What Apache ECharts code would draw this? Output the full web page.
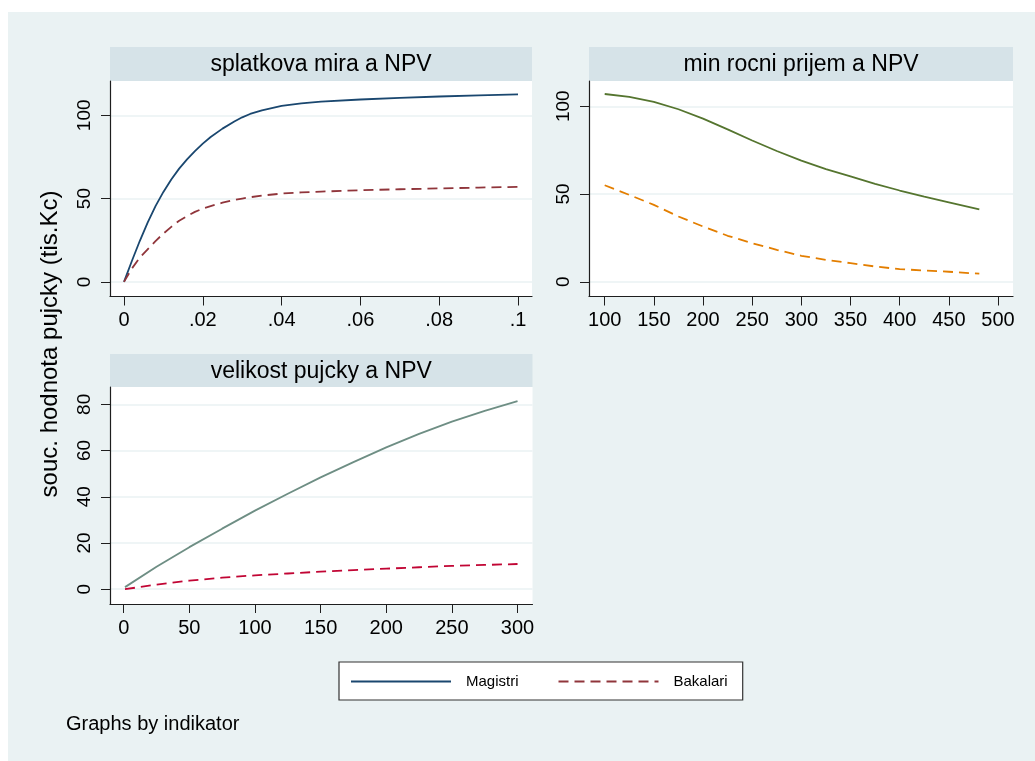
<!DOCTYPE html>
<html>
<head>
<meta charset="utf-8">
<script src="https://cdn.jsdelivr.net/npm/echarts@6/dist/echarts.min.js"></script>
<style>
  html, body { margin: 0; padding: 0; background: #ffffff; }
  #chart { width: 1035px; height: 761px; }
</style>
</head>
<body>
<div id="chart"></div>
<script>
// ---- data ----
const panelTitles = ['splatkova mira a NPV', 'min rocni prijem a NPV', 'velikost pujcky a NPV'];
const groupNames = ['Magistri', 'Bakalari'];
const yAxisTitle = 'souc. hodnota pujcky (tis.Kc)';
const noteText = 'Graphs by indikator';

// panel 1: repayment rate
const rateX   = [0, 0.002, 0.004, 0.006, 0.008, 0.01, 0.012, 0.014, 0.016, 0.018, 0.02, 0.022, 0.025, 0.028, 0.03, 0.032, 0.035, 0.04, 0.045, 0.05, 0.06, 0.07, 0.08, 0.09, 0.1];
const rateMag = [0, 12.5, 24.5, 35.5, 45.5, 54, 61.5, 68, 73.5, 78.5, 83, 87, 92, 96.3, 98.8, 100.8, 103, 105.6, 107.2, 108.2, 109.5, 110.5, 111.3, 112, 112.6];
const rateBak = [0, 8, 14.5, 19.5, 24.5, 29, 33, 36.7, 39.5, 42, 44, 45.5, 47.5, 49.2, 50, 50.8, 51.8, 53, 53.7, 54.2, 55, 55.6, 56.1, 56.6, 57];

// panel 2: minimum annual income
const incomeX   = [100, 125, 150, 175, 200, 225, 250, 275, 300, 325, 350, 375, 400, 425, 450, 481];
const incomeMag = [107, 105.3, 102.5, 98.3, 93, 86.8, 80.5, 74.5, 69, 64.2, 60, 55.8, 52, 48.5, 45.3, 41.3];
const incomeBak = [55, 49.5, 43.8, 37.2, 31.5, 26.2, 22, 18.2, 14.8, 12.5, 10.6, 8.7, 7.2, 6.4, 5.7, 4.6];

// panel 3: loan size
const loanX   = [1, 25, 50, 75, 100, 125, 150, 175, 200, 225, 250, 275, 300];
const loanMag = [0.9, 9.7, 18.2, 26.2, 34, 41.3, 48.4, 55, 61.4, 67.2, 72.5, 77.2, 81.4];
const loanBak = [0, 2, 3.7, 5, 6, 6.8, 7.6, 8.3, 8.9, 9.5, 10.1, 10.5, 10.9];

// tick values
const rateTicks   = [0, 0.02, 0.04, 0.06, 0.08, 0.1];
const incomeTicks = [100, 150, 200, 250, 300, 350, 400, 450, 500];
const loanTicks   = [0, 50, 100, 150, 200, 250, 300];
const npvTicksA   = [0, 50, 100];
const npvTicksB   = [0, 20, 40, 60, 80];

// ---- styling ----
const FONT = 'Liberation Sans, Arial, Helvetica, sans-serif';
const BG = '#eaf2f3';
const STRIP = '#d6e3e8';
const AXIS = '#1e1e1e';
const colors = {
  p1: ['#1a476f', '#90353b'],
  p2: ['#55752f', '#e37e00'],
  p3: ['#6e8e84', '#c10534']
};

const grids = [
  { left: 110, top: 81, width: 422, height: 215.5 },
  { left: 589, top: 81, width: 424, height: 215.5 },
  { left: 110, top: 387, width: 422.5, height: 217 }
];

const pairs = (xs, ys) => xs.map((x, i) => [x, ys[i]]);
const stataDec = v => (v === 0 ? '0' : String(+v.toFixed(4)).replace(/^0\./, '.'));

function xAxisFor(gi, min, max, ticks, fmt) {
  return {
    type: 'value', gridIndex: gi, min: min, max: max,
    axisLine: { show: true, onZero: false, lineStyle: { color: AXIS, width: 1.2 } },
    axisTick: { show: true, length: 9, customValues: ticks, lineStyle: { color: AXIS, width: 1 } },
    axisLabel: { customValues: ticks, formatter: fmt || (v => String(v)), color: '#000', fontSize: 20, fontFamily: FONT, margin: 14 },
    splitLine: { show: false }
  };
}
function yAxisFor(gi, min, max, ticks) {
  return {
    type: 'value', gridIndex: gi, min: min, max: max,
    axisLine: { show: true, onZero: false, lineStyle: { color: AXIS, width: 1.2 } },
    axisTick: { show: true, length: 9, customValues: ticks, lineStyle: { color: AXIS, width: 1 } },
    axisLabel: { customValues: ticks, rotate: 90, color: '#000', fontSize: 19, fontFamily: FONT, margin: 16 },
    splitLine: { show: true, lineStyle: { color: BG, width: 1.5 } }
  };
}
function lineSeries(name, gi, data, color, dashed) {
  return {
    name: name, type: 'line', xAxisIndex: gi, yAxisIndex: gi, data: data,
    showSymbol: false, symbol: 'none', smooth: false,
    lineStyle: { color: color, width: 1.8, type: dashed ? [10, 6] : 'solid' },
    itemStyle: { color: color },
    emphasis: { disabled: true }, animation: false
  };
}

const strips = [
  { x: 110, y: 47, w: 422, h: 34 },
  { x: 589, y: 47, w: 424, h: 34 },
  { x: 110, y: 354, w: 422.5, h: 33 }
];

const graphics = [
  { type: 'rect', z: -10, shape: { x: 8, y: 12, width: 1027, height: 749 }, style: { fill: BG }, silent: true }
];
strips.forEach((s, i) => {
  graphics.push({ type: 'rect', z: -5, shape: { x: s.x, y: s.y, width: s.w, height: s.h }, style: { fill: STRIP }, silent: true });
  graphics.push({ type: 'text', x: s.x + s.w / 2, y: s.y + s.h / 2 + 1,
    style: { text: panelTitles[i], fill: '#000', font: '23px ' + FONT, align: 'center', verticalAlign: 'middle' }, silent: true });
});
graphics.push({ type: 'text', x: 50, y: 344, rotation: Math.PI / 2,
  style: { text: yAxisTitle, fill: '#000', font: '24px ' + FONT, align: 'center', verticalAlign: 'middle' }, silent: true });
graphics.push({ type: 'text', x: 66, y: 724,
  style: { text: noteText, fill: '#000', font: '20px ' + FONT, align: 'left', verticalAlign: 'middle' }, silent: true });

const option = {
  backgroundColor: '#ffffff',
  animation: false,
  grid: grids.map(g => Object.assign({ show: true, backgroundColor: '#ffffff', borderWidth: 0, outerBoundsMode: 'none', containLabel: false }, g)),
  xAxis: [
    xAxisFor(0, -0.00355, 0.10355, rateTicks, stataDec),
    xAxisFor(1, 84.03, 515.26, incomeTicks),
    xAxisFor(2, -10.43, 311.4, loanTicks)
  ],
  yAxis: [
    yAxisFor(0, -8.8, 120.6, npvTicksA),
    yAxisFor(1, -8.4, 114.4, npvTicksA),
    yAxisFor(2, -6.4, 87.5, npvTicksB)
  ],
  legend: {
    data: groupNames,
    left: 339, top: 662,
    orient: 'horizontal',
    backgroundColor: '#ffffff',
    borderColor: '#333', borderWidth: 1.2, borderRadius: 0,
    padding: [12, 15, 11, 11],
    itemWidth: 100, itemHeight: 14, itemGap: 39,
    itemStyle: { opacity: 0 },
    selectedMode: false,
    textStyle: { color: '#000', fontSize: 15, fontFamily: FONT, padding: [0, 0, 0, 10] }
  },
  series: [
    lineSeries(groupNames[0], 0, pairs(rateX, rateMag), colors.p1[0], false),
    lineSeries(groupNames[1], 0, pairs(rateX, rateBak), colors.p1[1], true),
    lineSeries(groupNames[0], 1, pairs(incomeX, incomeMag), colors.p2[0], false),
    lineSeries(groupNames[1], 1, pairs(incomeX, incomeBak), colors.p2[1], true),
    lineSeries(groupNames[0], 2, pairs(loanX, loanMag), colors.p3[0], false),
    lineSeries(groupNames[1], 2, pairs(loanX, loanBak), colors.p3[1], true)
  ],
  graphic: graphics
};

const chart = echarts.init(document.getElementById('chart'), null, { renderer: 'canvas' });
chart.setOption(option);
</script>
</body>
</html>
